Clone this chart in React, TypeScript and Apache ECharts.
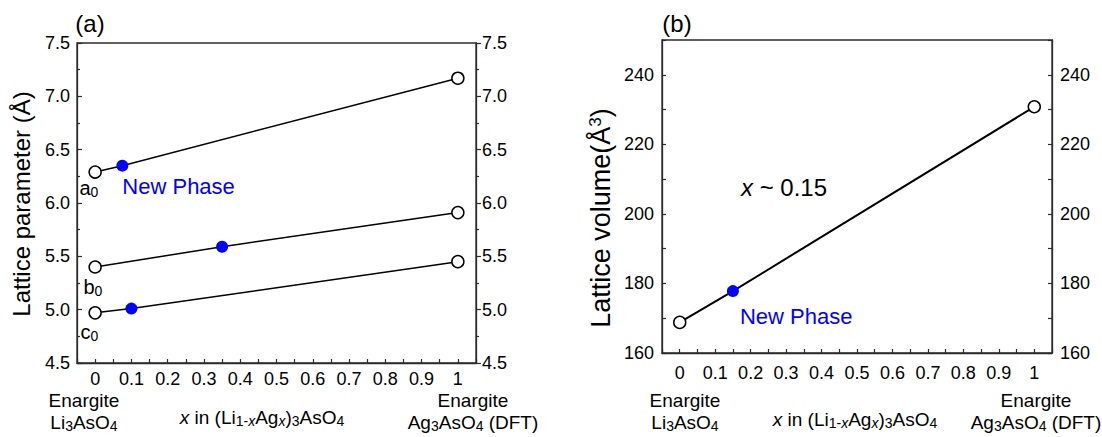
import React, { useEffect, useRef } from "react";
import * as echarts from "echarts";

// ---------- data ----------
const xA = [0, 0.075, 1];
const yA = [6.29, 6.35, 7.17];
const xB = [0, 0.35, 1];
const yB = [5.4, 5.59, 5.91];
const xC = [0, 0.1, 1];
const yC = [4.97, 5.01, 5.45];
const xVol = [0, 0.15, 1];
const yVol = [168.8, 177.8, 230.8];
const filled = [false, true, false];
const paramNames = ["a", "b", "c"];
const xTickLabels = ["0", "0.1", "0.2", "0.3", "0.4", "0.5", "0.6", "0.7", "0.8", "0.9", "1"];
const yTickLabelsA = ["4.5", "5.0", "5.5", "6.0", "6.5", "7.0", "7.5"];
const yTickLabelsB = ["160", "180", "200", "220", "240"];

const FONT = "'Liberation Sans', Arial, Helvetica, sans-serif";
const BLUE = "#0000ff";
const AXIS = "#2b2b2b";

const tok = (size: number, extra: any = {}) => ({
  fontSize: size,
  fontFamily: FONT,
  color: "#000",
  ...extra,
});

function xFmt(v: number) {
  const k = Math.round(v * 100);
  if (k < 0 || k > 100 || k % 10 !== 0) return "";
  return xTickLabels[k / 10];
}
function yFmtA(v: number) {
  const k = Math.round(v * 100);
  const idx = yTickLabelsA.indexOf((k / 100).toFixed(1));
  return k % 50 === 0 && idx >= 0 ? yTickLabelsA[idx] : "";
}
function yFmtB(v: number) {
  const s = String(Math.round(v));
  return yTickLabelsB.indexOf(s) >= 0 ? s : "";
}

function buildSeries(
  xs: number[],
  ys: number[],
  xi: number,
  yi: number,
  lw: number,
  firstLabel: any,
  midLabel: any
) {
  return {
    type: "line",
    xAxisIndex: xi,
    yAxisIndex: yi,
    symbol: "circle",
    symbolSize: 12,
    lineStyle: { color: "#000", width: lw },
    z: 3,
    data: xs.map((x, i) => {
      const item: any = {
        value: [x, ys[i]],
        itemStyle: filled[i]
          ? { color: BLUE, borderColor: BLUE, borderWidth: 0 }
          : { color: "#fff", borderColor: "#000", borderWidth: 1.5 },
      };
      if (i === 0 && firstLabel) item.label = firstLabel;
      if (filled[i] && midLabel) item.label = midLabel;
      return item;
    }),
  };
}

const subRich = {
  m: tok(20),
  s: tok(14, { padding: [7, 0, 0, 0] }),
};

function paramLabel(name: string, pos: number[]) {
  return {
    show: true,
    position: pos,
    align: "left",
    verticalAlign: "middle",
    formatter: `{m|${name}}{s|0}`,
    rich: subRich,
  };
}

function newPhaseLabel(pos: number[]) {
  return {
    show: true,
    position: pos,
    align: "left",
    verticalAlign: "middle",
    formatter: "New Phase",
    color: BLUE,
    fontSize: 22,
    fontFamily: FONT,
  };
}

function gText(x: number, y: number, text: string, rich: any, extra: any = {}) {
  return {
    type: "text",
    x,
    y,
    z: 10,
    ...extra,
    style: {
      text,
      rich,
      fontSize: 18,
      fontFamily: FONT,
      fill: "#000",
      align: "center",
      verticalAlign: "middle",
      textAlign: "center",
      textVerticalAlign: "middle",
    },
  };
}

const bottomRich = {
  n: tok(19),
  s: tok(14, { padding: [8, 0, 0, 0] }),
  i: tok(19, { fontStyle: "italic" }),
  si: tok(14, { padding: [8, 0, 0, 0], fontStyle: "italic" }),
};

const xTitle = "{i|x}{n| in (Li}{s|1-}{si|x}{n|Ag}{si|x}{n|)}{s|3}{n|AsO}{s|4}";

function xAxisOpt(gi: number, margin: number) {
  return {
    type: "value",
    gridIndex: gi,
    min: -0.05,
    max: 1.05,
    interval: 0.05,
    axisLine: { show: true, onZero: false, lineStyle: { color: AXIS, width: 1.3 } },
    axisTick: { show: true, inside: true, length: 4, lineStyle: { color: AXIS, width: 1.2 } },
    axisLabel: {
      show: true,
      interval: 0,
      margin,
      formatter: xFmt,
      fontSize: 18,
      fontFamily: FONT,
      color: "#000",
    },
    splitLine: { show: false },
  };
}

function yAxisOpt(gi: number, position: string, kind: "A" | "B", inside: boolean, margin: number) {
  const base: any = {
    type: "value",
    gridIndex: gi,
    position,
    axisLine: { show: true, onZero: false, lineStyle: { color: AXIS, width: 1.3 } },
    axisTick: { show: true, inside, length: 5, lineStyle: { color: AXIS, width: 1.2 } },
    axisLabel: {
      show: true,
      margin,
      fontSize: 18,
      fontFamily: FONT,
      color: "#000",
      formatter: kind === "A" ? yFmtA : yFmtB,
    },
    splitLine: { show: false },
  };
  if (kind === "A") {
    base.min = 4.5;
    base.max = 7.5;
    base.interval = 0.5;
    base.minorTick = { show: true, splitNumber: 2, length: 3, lineStyle: { color: AXIS, width: 1.2 } };
    base.minorSplitLine = { show: false };
  } else {
    base.min = 160;
    base.max = 250;
    base.interval = 10;
    base.axisTick.length = 4;
  }
  return base;
}

export default function App() {
  const ref = useRef<HTMLDivElement>(null);
  useEffect(() => {
    if (!ref.current) return;
    const chart = echarts.init(ref.current, undefined, { renderer: "svg" });
    const option: any = {
      animation: false,
      backgroundColor: "#fff",
      grid: [
        { left: 77, top: 43, width: 399, height: 320, show: true, borderColor: AXIS, borderWidth: 1.3, backgroundColor: "transparent" },
        { left: 662, top: 40, width: 390, height: 313, show: true, borderColor: AXIS, borderWidth: 1.3, backgroundColor: "transparent" },
      ],
      xAxis: [xAxisOpt(0, 7), xAxisOpt(1, 11)],
      yAxis: [
        yAxisOpt(0, "left", "A", true, 7),
        yAxisOpt(0, "right", "A", false, 6),
        yAxisOpt(1, "left", "B", true, 8),
        yAxisOpt(1, "right", "B", true, 8),
      ],
      series: [
        buildSeries(xA, yA, 0, 0, 1.5, paramLabel(paramNames[0], [-9, 23]), newPhaseLabel([6, 27])),
        buildSeries(xB, yB, 0, 0, 1.5, paramLabel(paramNames[1], [-5, 27]), null),
        buildSeries(xC, yC, 0, 0, 1.5, paramLabel(paramNames[2], [-8, 26]), null),
        buildSeries(xVol, yVol, 1, 2, 2, null, newPhaseLabel([13, 31])),
      ],
      graphic: [
        gText(90, 23, "{t|(a)}", { t: tok(24) }),
        gText(677, 23, "{t|(b)}", { t: tok(24) }),
        gText(21, 204, "{t|Lattice parameter (Å)}", { t: tok(24) }, { rotation: Math.PI / 2 }),
        gText(601, 218, "{t|Lattice volume(Å}{p|3}{t|)}", { t: tok(27), p: tok(17, { padding: [0, 0, 12, 0] }) }, { rotation: Math.PI / 2 }),
        // panel (a) bottom
        gText(84, 400, "{n|Enargite}", bottomRich),
        gText(84, 422, "{n|Li}{s|3}{n|AsO}{s|4}", bottomRich),
        gText(262, 417, xTitle, bottomRich),
        gText(473, 400, "{n|Enargite}", bottomRich),
        gText(473, 422, "{n|Ag}{s|3}{n|AsO}{s|4}{n| (DFT)}", bottomRich),
        // panel (b) bottom
        gText(685, 400, "{n|Enargite}", bottomRich),
        gText(685, 422, "{n|Li}{s|3}{n|AsO}{s|4}", bottomRich),
        gText(855, 419, xTitle, bottomRich),
        gText(1036, 400, "{n|Enargite}", bottomRich),
        gText(1036, 422, "{n|Ag}{s|3}{n|AsO}{s|4}{n| (DFT)}", bottomRich),
        // annotation
        {
          type: "text",
          x: 741,
          y: 187,
          z: 10,
          style: {
            text: "{i|x}{n| ~ 0.15}",
            rich: { i: tok(24, { fontStyle: "italic" }), n: tok(24) },
            fontSize: 24,
            fontFamily: FONT,
            align: "left",
            verticalAlign: "middle",
            textAlign: "left",
            textVerticalAlign: "middle",
          },
        },
      ],
    };
    chart.setOption(option);
    return () => chart.dispose();
  }, []);
  return (
    <div
      ref={ref}
      style={{ position: "fixed", left: 0, top: 0, width: 1102, height: 437, background: "#fff" }}
    />
  );
}
